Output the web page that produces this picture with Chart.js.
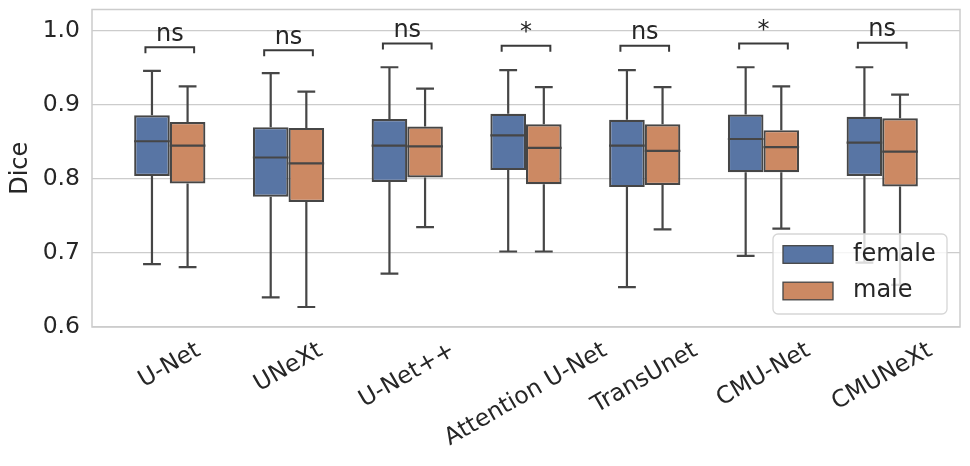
<!DOCTYPE html>
<html>
<head>
<meta charset="utf-8">
<script src="https://cdn.jsdelivr.net/npm/chart.js@4.4.1/dist/chart.umd.min.js"></script>
<style>
  html, body { margin: 0; padding: 0; background: #fff; }
  #wrap { width: 970px; height: 466px; }
</style>
</head>
<body>
<div id="wrap"><canvas id="chart" width="970" height="466"></canvas></div>
<script>
const categories = ['U-Net', 'UNeXt', 'U-Net++', 'Attention U-Net', 'TransUnet', 'CMU-Net', 'CMUNeXt'];
const seriesNames = ['female', 'male'];
const yTicks = [0.6, 0.7, 0.8, 0.9, 1.0];

// box stats
const femaleLow  = [0.685, 0.640, 0.672, 0.702, 0.654, 0.696, 0.687];
const femaleQ1   = [0.804, 0.776, 0.796, 0.812, 0.789, 0.809, 0.804];
const femaleMed  = [0.851, 0.829, 0.845, 0.859, 0.845, 0.854, 0.849];
const femaleQ3   = [0.886, 0.870, 0.881, 0.888, 0.880, 0.887, 0.884];
const femaleHigh = [0.946, 0.943, 0.951, 0.947, 0.947, 0.951, 0.951];

const maleLow  = [0.681, 0.627, 0.735, 0.702, 0.732, 0.733, 0.657];
const maleQ1   = [0.794, 0.769, 0.802, 0.793, 0.792, 0.809, 0.790];
const maleMed  = [0.845, 0.821, 0.844, 0.842, 0.838, 0.843, 0.837];
const maleQ3   = [0.877, 0.869, 0.871, 0.874, 0.874, 0.866, 0.882];
const maleHigh = [0.925, 0.918, 0.922, 0.924, 0.924, 0.925, 0.914];

// significance annotations
const sigLabels  = ['ns', 'ns', 'ns', '*', 'ns', '*', 'ns'];
const sigHeights = [0.978, 0.974, 0.983, 0.980, 0.980, 0.983, 0.984];

const FONT = 'DejaVu Sans';
const TEXT = '#262626';
const EDGE = '#464646';
const colors = ['#5875a4', '#cc8963'];

const groups = [
  {low: femaleLow, q1: femaleQ1, med: femaleMed, q3: femaleQ3, high: femaleHigh},
  {low: maleLow, q1: maleQ1, med: maleMed, q3: maleQ3, high: maleHigh},
];

const boxParts = {
  id: 'boxParts',
  beforeDatasetsDraw(chart) {
    const {ctx, chartArea: a, scales: {y}} = chart;
    ctx.save();
    ctx.strokeStyle = '#cccccc';
    ctx.lineWidth = 1.5;
    ctx.strokeRect(a.left, a.top, a.right - a.left, a.bottom - a.top);

    ctx.strokeStyle = EDGE;
    ctx.lineWidth = 2.2;
    groups.forEach((g, d) => {
      chart.getDatasetMeta(d).data.forEach((bar, i) => {
        const cap = bar.width / 4;
        const yHi = y.getPixelForValue(g.high[i]);
        const yLo = y.getPixelForValue(g.low[i]);
        ctx.beginPath();
        ctx.moveTo(bar.x, y.getPixelForValue(g.q3[i]));
        ctx.lineTo(bar.x, yHi);
        ctx.moveTo(bar.x - cap, yHi);
        ctx.lineTo(bar.x + cap, yHi);
        ctx.moveTo(bar.x, y.getPixelForValue(g.q1[i]));
        ctx.lineTo(bar.x, yLo);
        ctx.moveTo(bar.x - cap, yLo);
        ctx.lineTo(bar.x + cap, yLo);
        ctx.stroke();
      });
    });
    ctx.restore();
  },
  afterDatasetsDraw(chart) {
    const {ctx, chartArea: a, scales: {x, y}} = chart;
    ctx.save();
    // medians
    ctx.strokeStyle = EDGE;
    ctx.lineWidth = 2.2;
    groups.forEach((g, d) => {
      chart.getDatasetMeta(d).data.forEach((bar, i) => {
        const ym = y.getPixelForValue(g.med[i]);
        ctx.beginPath();
        ctx.moveTo(bar.x - bar.width / 2, ym);
        ctx.lineTo(bar.x + bar.width / 2, ym);
        ctx.stroke();
      });
    });

    // brackets + labels
    ctx.strokeStyle = '#3a3a3a';
    ctx.lineWidth = 2;
    ctx.fillStyle = TEXT;
    ctx.font = `24px "${FONT}"`;
    ctx.textAlign = 'center';
    ctx.textBaseline = 'alphabetic';
    sigLabels.forEach((lab, i) => {
      const x0 = x.getPixelForValue(i - 0.205);
      const x1 = x.getPixelForValue(i + 0.205);
      const yt = y.getPixelForValue(sigHeights[i]);
      const yb = y.getPixelForValue(sigHeights[i] - 0.008);
      ctx.beginPath();
      ctx.moveTo(x0, yb);
      ctx.lineTo(x0, yt);
      ctx.lineTo(x1, yt);
      ctx.lineTo(x1, yb);
      ctx.stroke();
      ctx.fillText(lab, x.getPixelForValue(i), yt - 6.5);
    });

    // rotated category labels, centred under each tick
    ctx.font = `23.5px "${FONT}"`;
    ctx.textBaseline = 'middle';
    const rot = Math.PI / 6;
    categories.forEach((c, i) => {
      const L = ctx.measureText(c).width;
      const h = 23.5 * 1.164;
      const H = L * Math.sin(rot) + h * Math.cos(rot);
      ctx.save();
      ctx.translate(x.getPixelForValue(i), a.bottom + 10 + H / 2);
      ctx.rotate(-rot);
      ctx.fillText(c, 0, 0);
      ctx.restore();
    });

    // legend
    ctx.fillStyle = 'rgba(255,255,255,0.8)';
    ctx.strokeStyle = '#d6d6d6';
    ctx.lineWidth = 1.3;
    ctx.beginPath();
    ctx.roundRect(773, 234, 174, 80, 5);
    ctx.fill();
    ctx.stroke();
    ctx.font = `24px "${FONT}"`;
    ctx.textAlign = 'left';
    seriesNames.forEach((name, k) => {
      const cy = 254.5 + k * 36.5;
      ctx.fillStyle = colors[k];
      ctx.fillRect(783, cy - 8.8, 50, 17.6);
      ctx.strokeStyle = EDGE;
      ctx.lineWidth = 1.3;
      ctx.strokeRect(783, cy - 8.8, 50, 17.6);
      ctx.fillStyle = TEXT;
      ctx.fillText(name, 853, cy);
    });
    ctx.restore();
  }
};

new Chart(document.getElementById('chart'), {
  type: 'bar',
  data: {
    datasets: groups.map((g, d) => ({
      label: seriesNames[d],
      data: categories.map((c, i) => ({x: i, y: [g.q1[i], g.q3[i]]})),
      backgroundColor: colors[d],
      borderColor: EDGE,
      borderWidth: 2.2,
      borderSkipped: false,
      categoryPercentage: 0.6,
      barPercentage: 1.0,
    })),
  },
  options: {
    responsive: false,
    animation: false,
    devicePixelRatio: 1,
    layout: {padding: {top: 9.5, right: 10, left: 0, bottom: 0}},
    plugins: {legend: {display: false}, tooltip: {enabled: false}},
    scales: {
      x: {
        type: 'linear',
        min: -0.655,
        max: 6.655,
        offset: false,
        afterBuildTicks: s => { s.ticks = categories.map((c, i) => ({value: i})); },
        grid: {display: false},
        border: {display: false},
        ticks: {display: false},
        afterFit: s => { s.height = 139; s.paddingLeft = 0; s.paddingRight = 0; },
      },
      y: {
        min: 0.6,
        max: 1.029,
        afterBuildTicks: s => { s.ticks = yTicks.map(v => ({value: v})); },
        afterFit: s => { s.width = 92; s.paddingTop = 0; s.paddingBottom = 0; },
        grid: {color: '#cccccc', lineWidth: 1.3, drawTicks: false},
        border: {display: false},
        ticks: {
          padding: 12,
          color: TEXT,
          font: {family: FONT, size: 23.5},
          callback: v => v.toFixed(1),
        },
        title: {
          display: true,
          text: 'Dice',
          color: TEXT,
          font: {family: FONT, size: 24},
          padding: {top: 6, bottom: 0},
        },
      },
    },
  },
  plugins: [boxParts],
});
</script>
</body>
</html>
